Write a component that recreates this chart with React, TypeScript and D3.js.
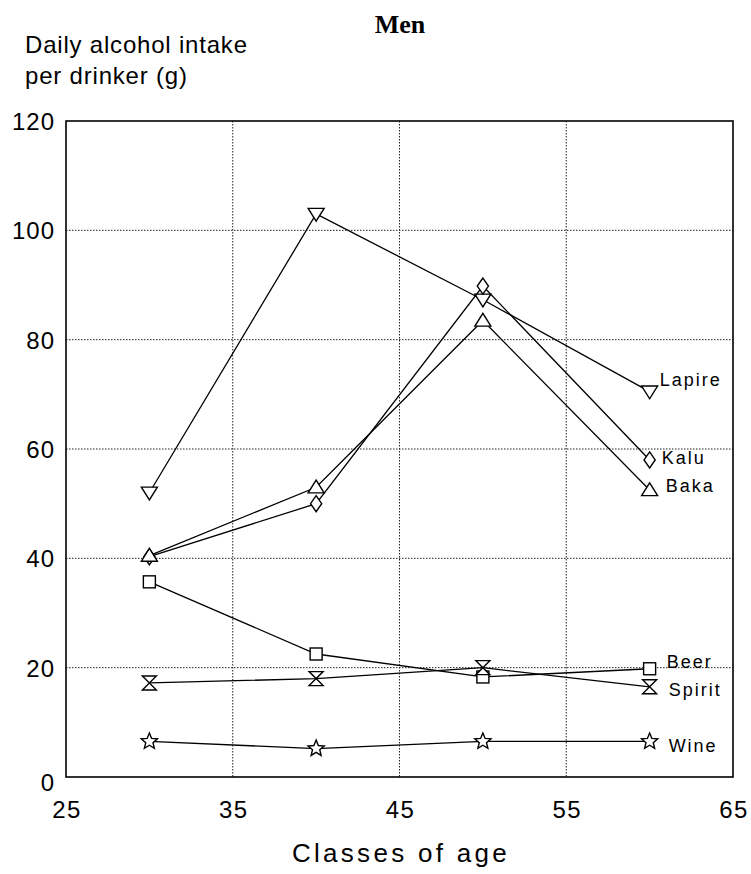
import React from "react";
import * as d3 from "d3";

const ages = [30, 40, 50, 60];
const lapire = [52, 103, 87.3, 70.5];
const kalu = [40.3, 50, 89.8, 58];
const baka = [40.5, 53, 83.5, 52.5];
const beer = [35.7, 22.5, 18.3, 19.8];
const spirit = [17.2, 18, 20, 16.5];
const wine = [6.5, 5.2, 6.5, 6.5];

const seriesNames = ["Lapire", "Kalu", "Baka", "Beer", "Spirit", "Wine"];
const seriesValues = [lapire, kalu, baka, beer, spirit, wine];
const seriesMarkers = ["tridown", "diamond", "triup", "square", "hourglass", "star"];
// label baseline offsets (dx, dy) relative to last point
const labelOffsets: [number, number][] = [
  [10, -6],
  [12, 4],
  [16, 2],
  [17, -1],
  [19, 9],
  [19, 11],
];

const xTicks = [25, 35, 45, 55, 65];
const yTicks = [0, 20, 40, 60, 80, 100, 120];

const W = 751;
const H = 874;
const M = { left: 66, right: 733, top: 121, bottom: 777 };

function Marker({ type, x, y }: { type: string; x: number; y: number }) {
  const s = 8;
  const common = { fill: "white", stroke: "black", strokeWidth: 1.4 };
  if (type === "tridown")
    return <path d={`M${x - s},${y - s * 0.7}L${x + s},${y - s * 0.7}L${x},${y + s * 0.9}Z`} {...common} />;
  if (type === "triup")
    return <path d={`M${x - s},${y + s * 0.7}L${x + s},${y + s * 0.7}L${x},${y - s * 0.9}Z`} {...common} />;
  if (type === "diamond")
    return <path d={`M${x},${y - s}L${x + s * 0.7},${y}L${x},${y + s}L${x - s * 0.7},${y}Z`} {...common} />;
  if (type === "square")
    return <rect x={x - 6} y={y - 6} width={12} height={12} {...common} />;
  if (type === "hourglass")
    return <path d={`M${x - 7},${y - 7}L${x + 7},${y - 7}L${x - 7},${y + 7}L${x + 7},${y + 7}Z`} {...common} />;
  // star
  const pts: string[] = [];
  for (let i = 0; i < 10; i++) {
    const r = i % 2 === 0 ? 8.5 : 3.8;
    const a = -Math.PI / 2 + (i * Math.PI) / 5;
    pts.push(`${x + r * Math.cos(a)},${y + r * Math.sin(a)}`);
  }
  return <polygon points={pts.join(" ")} {...common} />;
}

export default function App() {
  const x = d3.scaleLinear().domain([25, 65]).range([M.left, M.right]);
  const y = d3.scaleLinear().domain([0, 120]).range([M.bottom, M.top]);
  const line = d3
    .line<number>()
    .x((_, i) => x(ages[i]))
    .y((d) => y(d));
  const sans = "'Liberation Sans', Arial, sans-serif";

  return (
    <svg width={W} height={H} style={{ position: "absolute", left: 0, top: 0, background: "white" }}>
      <rect width={W} height={H} fill="white" />
      <text x={400} y={33} textAnchor="middle" fontFamily="'Liberation Serif', 'Times New Roman', serif" fontWeight="bold" fontSize={26}>
        Men
      </text>
      <text x={25} y={53} fontFamily={sans} fontSize={24} letterSpacing={0.8}>
        Daily alcohol intake
      </text>
      <text x={25} y={84} fontFamily={sans} fontSize={24} letterSpacing={0.8}>
        per drinker (g)
      </text>

      {/* grid */}
      {yTicks.filter((t) => t > 0 && t < 120).map((t) => (
        <line key={"gy" + t} x1={M.left} x2={M.right} y1={y(t)} y2={y(t)} stroke="#222" strokeWidth={1} strokeDasharray="1.5,1.5" />
      ))}
      {xTicks.filter((t) => t > 25 && t < 65).map((t) => (
        <line key={"gx" + t} x1={x(t)} x2={x(t)} y1={M.top} y2={M.bottom} stroke="#222" strokeWidth={1} strokeDasharray="1.5,1.5" />
      ))}
      <rect x={M.left} y={M.top} width={M.right - M.left} height={M.bottom - M.top} fill="none" stroke="black" strokeWidth={1.6} />

      {/* y ticks */}
      {yTicks.map((t) => (
        <text key={"ty" + t} x={55} y={y(t) + (t === 0 ? 14 : 9)} textAnchor="end" fontFamily={sans} fontSize={24} letterSpacing={1}>
          {t}
        </text>
      ))}
      {xTicks.map((t) => (
        <text key={"tx" + t} x={x(t) + 1} y={818} textAnchor="middle" fontFamily={sans} fontSize={24} letterSpacing={1.5}>
          {t}
        </text>
      ))}
      <text x={401} y={862} textAnchor="middle" fontFamily={sans} fontSize={26} letterSpacing={3.3}>
        Classes of age
      </text>

      {seriesValues.map((vals, si) => (
        <g key={seriesNames[si]}>
          <path d={line(vals) || ""} fill="none" stroke="black" strokeWidth={1.3} />
          {vals.map((v, i) => (
            <Marker key={i} type={seriesMarkers[si]} x={x(ages[i])} y={y(v)} />
          ))}
          <text
            x={x(ages[ages.length - 1]) + labelOffsets[si][0]}
            y={y(vals[vals.length - 1]) + labelOffsets[si][1]}
            fontFamily={sans}
            fontSize={18}
            letterSpacing={2}
          >
            {seriesNames[si]}
          </text>
        </g>
      ))}
    </svg>
  );
}
